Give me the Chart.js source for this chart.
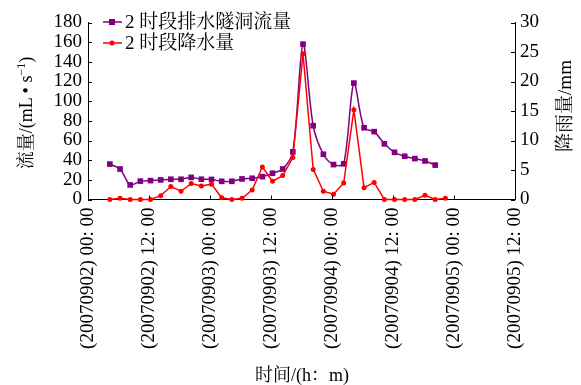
<!DOCTYPE html>
<html>
<head>
<meta charset="utf-8">
<script src="https://cdn.jsdelivr.net/npm/chart.js@4"></script>
<style>
  body { margin: 0; background: #fff; }
  #wrap { position: relative; width: 581px; height: 385px; }
  .t { position: absolute; font-family: 'Liberation Serif', 'Noto Serif CJK SC', serif; color: #000;
       white-space: nowrap; line-height: 22px; height: 22px; text-align: center; width: 240px; }
  .rot { transform: rotate(-90deg); }
  .leg { text-align: left; font-size: 19px; left: 125px; }
  sup { font-size: 12px; vertical-align: 7px; line-height: 0; }
</style>
</head>
<body>
<div id="wrap">
  <canvas id="chart"></canvas>
  <div class="t rot" style="left:-94px;top:102px;font-size:18px">流量/(mL • s<sup>−1</sup>)</div>
  <div class="t rot" style="left:445px;top:95px;font-size:19px">降雨量/mm</div>
  <div class="t" style="left:182px;top:364px;font-size:18px">时间/(h：m)</div>
  <div class="t leg" id="leg1" style="top:11px"></div>
  <div class="t leg" id="leg2" style="top:32px"></div>
</div>
<script>
// hours since 2007-09-02 00:00
const timeHours = [4.3, 6.3, 8.3, 10.3, 12.3, 14.3, 16.3, 18.3, 20.3, 22.3, 24.3, 26.3, 28.3, 30.3, 32.3, 34.3, 36.3,
  38.3, 40.3, 42.3, 44.3, 46.3, 48.3, 50.3, 52.3, 54.3, 56.3, 58.3, 60.3, 62.3, 64.3, 66.3, 68.3, 70.3];
const flowValues = [36, 31, 14.8, 18.7, 19.2, 19.9, 20.6, 20.6, 22.5, 20.6, 20.4, 18.5, 18.5, 20.9, 21.6, 23.2, 26.7,
  31, 48.4, 158, 75, 46, 35.5, 36.3, 118.4, 73, 69, 56.6, 48, 44, 41.6, 39.2, 35];
const rainValues = [0, 0.2, 0, 0, 0, 0.65, 2.2, 1.4, 2.7, 2.3, 2.6, 0.3, 0, 0.2, 1.6, 5.5, 3.1,
  4.05, 7.1, 24.7, 5.1, 1.4, 0.9, 2.8, 15.2, 2.0, 2.9, 0, 0, 0, 0, 0.7, 0, 0.2];
const xTickLabels = ['(20070902) 00: 00', '(20070902) 12: 00', '(20070903) 00: 00', '(20070903) 12: 00',
  '(20070904) 00: 00', '(20070904) 12: 00', '(20070905) 00: 00', '(20070905) 12: 00'];
const flowName = '2 时段排水隧洞流量';
const rainName = '2 时段降水量';

document.getElementById('leg1').textContent = flowName;
document.getElementById('leg2').textContent = rainName;

const FONT = "'Liberation Serif'";
const PURPLE = '#800080';
const RED = '#ff0000';

function seg(ctx, x1, y1, x2, y2) {
  ctx.beginPath();
  ctx.moveTo(x1, y1);
  ctx.lineTo(x2, y2);
  ctx.stroke();
}

// inward ticks + legend symbols
const decor = {
  id: 'decor',
  afterDraw(chart) {
    const { ctx, chartArea: a, scales } = chart;
    ctx.save();
    ctx.strokeStyle = '#000';
    ctx.lineWidth = 1;
    scales.y.ticks.forEach(t => {
      const py = Math.round(scales.y.getPixelForValue(t.value)) + 0.5;
      seg(ctx, a.left, py, a.left + 4, py);
    });
    scales.y2.ticks.forEach(t => {
      const py = Math.round(scales.y2.getPixelForValue(t.value)) + 0.5;
      seg(ctx, a.right, py, a.right - 4, py);
    });
    scales.x.ticks.forEach(t => {
      const px = Math.round(scales.x.getPixelForValue(t.value)) + 0.5;
      seg(ctx, px, a.bottom, px, a.bottom - 4);
    });

    [{ color: PURPLE, square: true, y: 22 }, { color: RED, square: false, y: 43 }].forEach(r => {
      ctx.strokeStyle = r.color;
      ctx.fillStyle = r.color;
      ctx.lineWidth = 1.5;
      seg(ctx, 103, r.y, 122, r.y);
      if (r.square) {
        ctx.fillRect(109, r.y - 3, 6, 6);
      } else {
        ctx.beginPath();
        ctx.arc(112, r.y, 2.5, 0, Math.PI * 2);
        ctx.fill();
      }
    });
    ctx.restore();
  }
};

const flowPoints = flowValues.map((v, i) => ({ x: timeHours[i], y: v }));
const rainPoints = rainValues.map((v, i) => ({ x: timeHours[i], y: v }));

const tickFont = { family: FONT, size: 19 };
const axisCommon = {
  grid: { drawOnChartArea: false, drawTicks: false },
  border: { color: '#000', width: 1 }
};

// software canvas so the serif face is used for the tick text
const canvas = document.getElementById('chart');
canvas.getContext('2d', { willReadFrequently: true });

const chart = new Chart(canvas, {
  type: 'line',
  data: {
    datasets: [
      {
        label: rainName,
        data: rainPoints,
        yAxisID: 'y2',
        borderColor: RED,
        backgroundColor: RED,
        borderWidth: 1.5,
        pointStyle: 'circle',
        pointRadius: 2.5,
        pointBorderWidth: 0,
        tension: 0,
        clip: false,
        order: 1
      },
      {
        label: flowName,
        data: flowPoints,
        yAxisID: 'y',
        borderColor: PURPLE,
        backgroundColor: PURPLE,
        borderWidth: 1.5,
        pointStyle: 'rect',
        pointRadius: 4,
        pointBorderWidth: 0,
        tension: 0.3,
        clip: false,
        order: 2
      }
    ]
  },
  options: {
    responsive: true,
    maintainAspectRatio: false,
    animation: false,
    layout: { padding: { top: 22.5, left: 0, right: 0, bottom: 0 } },
    plugins: { legend: { display: false }, tooltip: { enabled: false } },
    scales: {
      x: {
        ...axisCommon,
        type: 'linear',
        min: 0,
        max: 84,
        ticks: {
          stepSize: 12,
          autoSkip: false,
          color: '#000',
          font: tickFont,
          padding: 8,
          minRotation: 90,
          maxRotation: 90,
          callback: v => xTickLabels[v / 12]
        },
        afterFit(scale) { scale.height = 185.5; }
      },
      y: {
        ...axisCommon,
        position: 'left',
        min: 0,
        max: 180,
        ticks: { stepSize: 20, autoSkip: false, color: '#000', font: tickFont, padding: 6 },
        afterFit(scale) { scale.width = 88; }
      },
      y2: {
        ...axisCommon,
        position: 'right',
        min: 0,
        max: 30,
        ticks: { stepSize: 5, autoSkip: false, color: '#000', font: tickFont, padding: 5 },
        afterFit(scale) { scale.width = 66; }
      }
    }
  },
  plugins: [decor]
});

document.fonts.ready.then(() => chart.update('none'));
setTimeout(() => chart.update('none'), 150);
</script>
</body>
</html>
